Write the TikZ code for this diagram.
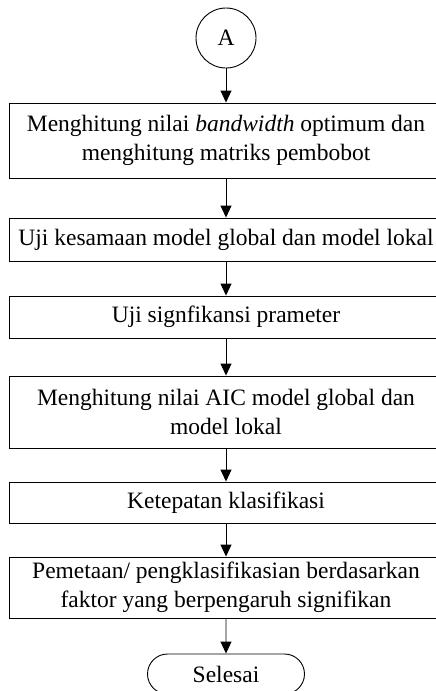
\documentclass[tikz,border=0pt]{standalone}
\usepackage{fontspec}
\setmainfont{Liberation Serif}
\usetikzlibrary{arrows.meta,shapes.misc}
\begin{document}
\begin{tikzpicture}[x=1pt,y=-1pt,
  every node/.style={font=\fontsize{23.5}{29}\selectfont},
  procbox/.style={draw,line width=0.9pt,minimum width=434pt,inner sep=0pt,align=center,anchor=center},
  flow/.style={draw,line width=0.9pt,-{Triangle[length=12pt,width=11pt]}},
  conn/.style={draw,circle,line width=0.9pt,minimum size=60pt,inner sep=0pt},
  term/.style={draw,rounded rectangle,line width=0.9pt,minimum width=157pt,minimum height=40pt,inner sep=0pt}]
\useasboundingbox (0,0) rectangle (436,691);
\clip (0,0) rectangle (436,691);
\node[conn] (a) at (226,38) {A};
\node[procbox,minimum height=75pt] (b1) at (226,140.5) {Menghitung nilai \textit{bandwidth} optimum dan\\menghitung matriks pembobot};
\node[procbox,minimum height=43pt] (b2) at (226,239.5) {Uji kesamaan model global dan model lokal};
\node[procbox,minimum height=42pt] (b3) at (226,317) {Uji signfikansi prameter};
\node[procbox,minimum height=72pt] (b4) at (226,412) {Menghitung nilai AIC model global dan\\model lokal};
\node[procbox,minimum height=41pt] (b5) at (226,502.5) {Ketepatan klasifikasi};
\node[procbox,minimum height=61pt] (b6) at (226,587.5) {Pemetaan/ pengklasifikasian berdasarkan\\faktor yang berpengaruh signifikan};
\node[term] (end) at (226,674) {Selesai};
\draw[flow] (a) -- (b1);
\draw[flow] (b1) -- (b2);
\draw[flow] (b2) -- (b3);
\draw[flow] (b3) -- (b4);
\draw[flow] (b4) -- (b5);
\draw[flow] (b5) -- (b6);
\draw[flow] (b6) -- (end);
\end{tikzpicture}
\end{document}
